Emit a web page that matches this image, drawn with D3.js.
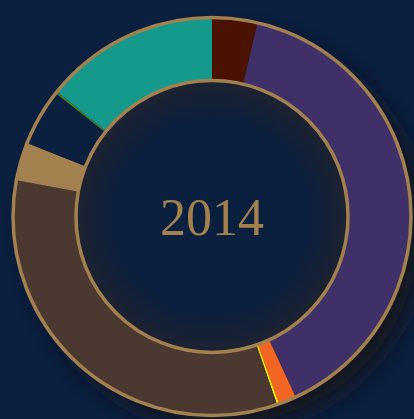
<!DOCTYPE html>
<html>
<head>
<meta charset="utf-8">
<script src="https://cdn.jsdelivr.net/npm/d3@7"></script>
<style>
  html, body { margin: 0; padding: 0; background: #0b1f3f; overflow: hidden; }
  #main { width: 414px; height: 419px; }
</style>
</head>
<body>
<div id="main"></div>
<script>
/// data ///
const categories = ['a', 'b', 'c', 'd', 'e', 'f', 'g', 'h', 'i'];
const values = [3.67, 39.4, 1.44, 0.17, 33.2, 3.1, 4.6, 0.17, 14.2];
const colors = ['#4a1200', '#3f3068', '#f26522', '#fff200', '#4a3831', '#a3814f', '#0b1f3f', '#4d7a22', '#15998c'];
const year = '2014';

/// chart ///
const w = 414;
const h = 419;
const cx = 212;
const cy = 216.5;
const outerR = 199;
const innerR = 136;
const tan = '#a3814f';

let svg = d3.select('#main')
    .append('svg')
    .attr('width', w)
    .attr('height', h);

let defs = svg.append('defs');

// drop shadow behind the ring
let blur = defs.append('filter')
    .attr('id', 'shadow')
    .attr('x', '-30%').attr('y', '-30%')
    .attr('width', '160%').attr('height', '160%');
blur.append('feGaussianBlur').attr('stdDeviation', 10);

// inset shading of the hole
let grad = defs.append('radialGradient')
    .attr('id', 'hole');
grad.append('stop').attr('offset', '70%').attr('stop-color', '#0b1f3f');
grad.append('stop').attr('offset', '100%').attr('stop-color', '#1d2230');

let g = svg.append('g')
    .attr('transform', 'translate(' + cx + ',' + cy + ')');

g.append('circle')          // shadow
    .attr('cx', 14)
    .attr('cy', 14)
    .attr('r', outerR)
    .attr('fill', '#16171d')
    .attr('opacity', 0.9)
    .attr('filter', 'url(#shadow)');

let pie = d3.pie().sort(null).value(d => d);
let arc = d3.arc().innerRadius(innerR).outerRadius(outerR);

g.selectAll('path.slice')
    .data(pie(values))
    .enter()
    .append('path')
    .attr('class', 'slice')
    .attr('d', arc)
    .attr('fill', (d, i) => colors[i]);

g.append('circle')          // hole
    .attr('r', innerR)
    .attr('fill', 'url(#hole)');

g.append('circle')          // outer rim
    .attr('r', outerR)
    .attr('fill', 'none')
    .attr('stroke', tan)
    .attr('stroke-width', 3.5);

g.append('circle')          // inner rim
    .attr('r', innerR)
    .attr('fill', 'none')
    .attr('stroke', tan)
    .attr('stroke-width', 3.5);

g.append('text')
    .attr('x', 0)
    .attr('y', 18)
    .attr('text-anchor', 'middle')
    .attr('fill', tan)
    .style('font-family', '"Liberation Serif", "DejaVu Serif", serif')
    .style('font-size', '52px')
    .text(year);
</script>
</body>
</html>
